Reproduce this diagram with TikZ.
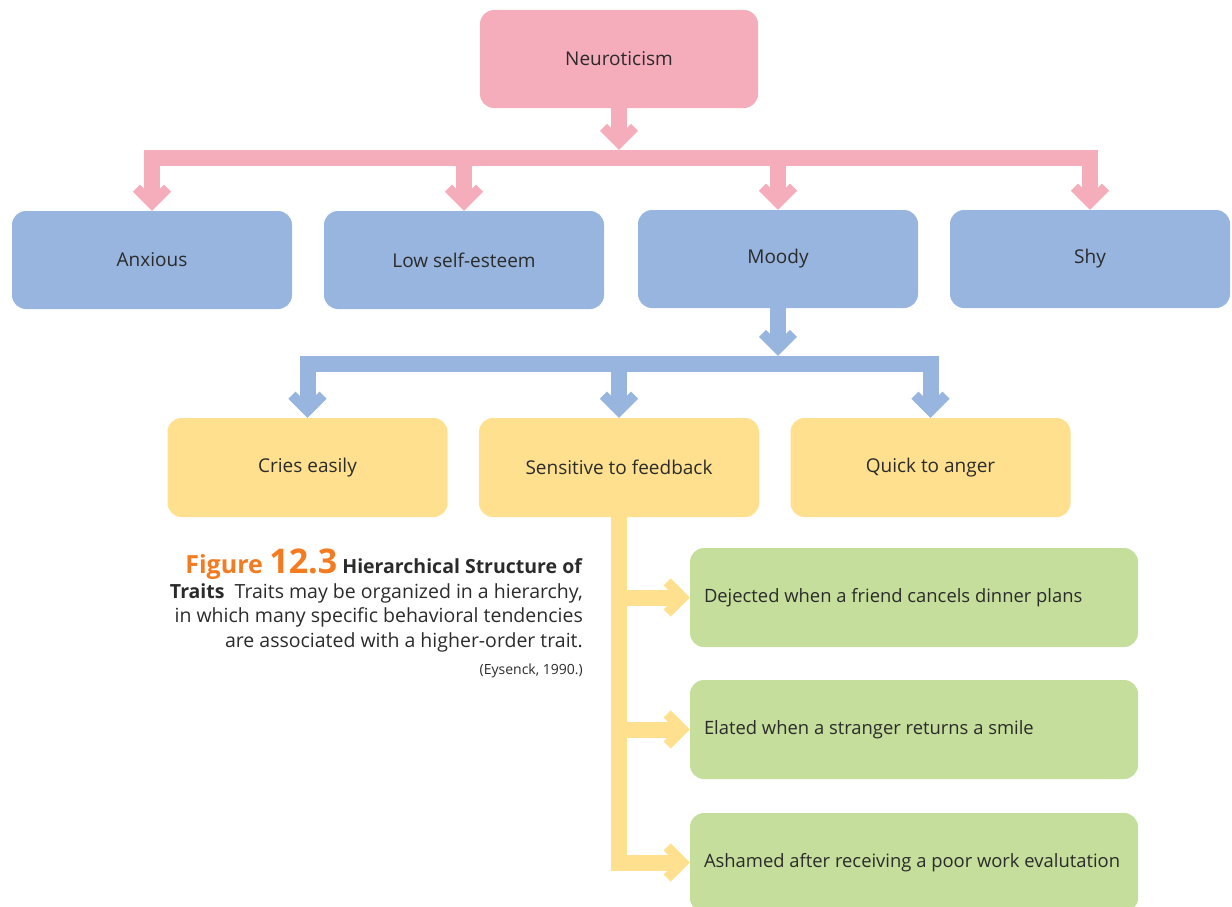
\documentclass[tikz,border=0pt]{standalone}
\usepackage{fontspec}
\setmainfont{Open Sans}
\usetikzlibrary{calc}
\definecolor{pinkc}{HTML}{F5ACBB}
\definecolor{bluec}{HTML}{97B5DE}
\definecolor{yellowc}{HTML}{FEE08F}
\definecolor{greenc}{HTML}{C5DE9B}
\definecolor{inkc}{HTML}{2B2B2B}
\definecolor{figc}{HTML}{F47B20}
% one-line, left-aligned label for the behaviour boxes
\newcommand\behave[1]{\makebox[420pt][l]{#1}}
\begin{document}
\begin{tikzpicture}[
  x=1pt, y=-1pt,
  box/.style={rounded corners=14pt, minimum width=280pt, minimum height=99pt,
    inner sep=0pt, text=inkc, font=\fontsize{19}{23}\selectfont},
  pinkbox/.style={box, fill=pinkc, minimum width=278pt, minimum height=98pt},
  bluebox/.style={box, fill=bluec, minimum height=98pt},
  yellowbox/.style={box, fill=yellowc},
  greenbox/.style={box, fill=greenc, minimum width=448pt,
    font=\fontsize{18.4}{23}\selectfont},
  bar/.style={line width=16pt, line join=miter, line cap=butt},
  chevd/.pic={\path[pic actions, line width=10pt, line join=miter, line cap=butt]
    (-15.5,-22.6) -- (0,-7.1) -- (15.5,-22.6);},
  chevr/.pic={\path[pic actions, line width=10pt, line join=miter, line cap=butt]
    (-22.6,-15.5) -- (-7.1,0) -- (-22.6,15.5);},
]
\clip (0,0) rectangle (1232,907);

% top level
\node[pinkbox] (neu) at (619,59) {Neuroticism};

% second level
\node[bluebox] (anx)   at (152,260) {Anxious};
\node[bluebox] (low)   at (464,260) {Low self-esteem};
\node[bluebox] (moody) at (778,259) {Moody};
\node[bluebox] (shy)   at (1090,259) {Shy};

% third level
\node[yellowbox] (cries) at (307.5,467.5) {Cries easily};
\node[yellowbox] (sens)  at (619,467.5)   {Sensitive to feedback};
\node[yellowbox] (quick) at (930.5,467.5) {Quick to anger};

% behaviours
\node[greenbox] (g1) at (914,597.5) {\behave{Dejected when a friend cancels dinner plans}};
\node[greenbox] (g2) at (914,729.5) {\behave{Elated when a stranger returns a smile}};
\node[greenbox] (g3) at (914,862.5) {\behave{Ashamed after receiving a poor work evalutation}};

% pink connectors
\coordinate (pbar) at (619,158);
\coordinate (ptip) at (619,150);
\draw[bar, pinkc] (neu.south) -- ($(ptip)+(0,-10)$);
\pic[draw=pinkc] at (ptip) {chevd};
\draw[bar, pinkc] ($(anx.north)+(0,-10)$) -- (anx.north |- pbar)
  -- (shy.north |- pbar) -- ($(shy.north)+(0,-10)$);
\foreach \n in {low,moody}
  \draw[bar, pinkc] (\n.north |- pbar) -- ($(\n.north)+(0,-10)$);
\foreach \n in {anx,low,moody,shy}
  \pic[draw=pinkc] at (\n.north) {chevd};

% blue connectors
\coordinate (bbar) at (778,364);
\coordinate (btip) at (778,356);
\draw[bar, bluec] (moody.south) -- ($(btip)+(0,-10)$);
\pic[draw=bluec] at (btip) {chevd};
\draw[bar, bluec] ($(cries.north)+(0,-10)$) -- (cries.north |- bbar)
  -- (quick.north |- bbar) -- ($(quick.north)+(0,-10)$);
\draw[bar, bluec] (sens.north |- bbar) -- ($(sens.north)+(0,-10)$);
\foreach \n in {cries,sens,quick}
  \pic[draw=bluec] at (\n.north) {chevd};

% yellow connectors
\draw[bar, yellowc] (sens.south) -- (sens.south |- g3.west) -- ($(g3.west)+(-10,0)$);
\foreach \n in {g1,g2}
  \draw[bar, yellowc] (sens.south |- \n.west) -- ($(\n.west)+(-10,0)$);
\foreach \n in {g1,g2,g3}
  \pic[draw=yellowc] at (\n.west) {chevr};

% caption
\node[anchor=north east, align=right, inner sep=0pt, text=inkc,
      font=\fontsize{19.5}{24.5}\selectfont] (cap) at (583,549)
  {{\bfseries\color{figc}\fontsize{25}{24}\selectfont Figure \fontsize{34}{24}\selectfont 12.3}
   \textbf{Hierarchical Structure of}\\
   \textbf{Traits}\ \ Traits may be organized in a hierarchy,\\
   in which many specific behavioral tendencies\\
   are associated with a higher-order trait.\\[3pt]
   {\fontsize{14}{16}\selectfont (Eysenck, 1990.)}};
\end{tikzpicture}
\end{document}
